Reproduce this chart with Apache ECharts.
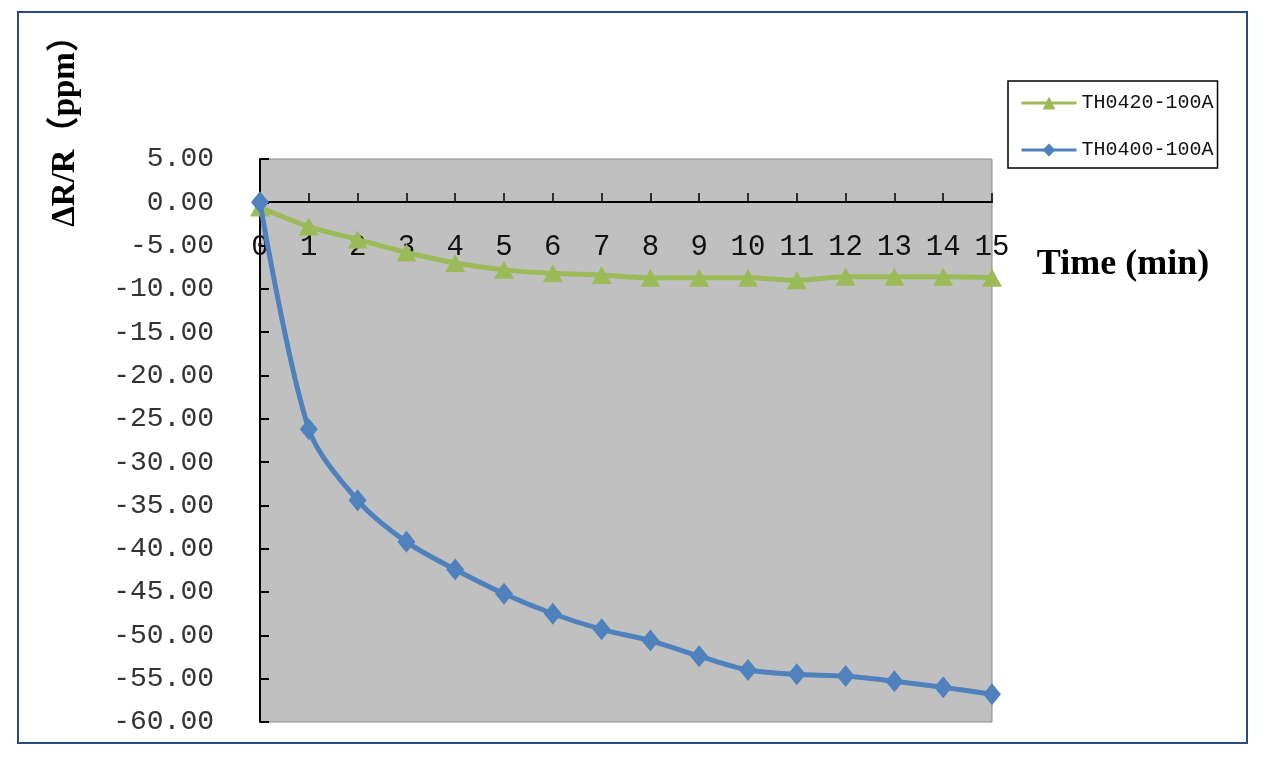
<!DOCTYPE html>
<html>
<head>
<meta charset="utf-8">
<script src="https://cdn.jsdelivr.net/npm/echarts@6/dist/echarts.min.js"></script>
<style>
html,body{margin:0;padding:0;background:#fff;}
#chart{width:1266px;height:757px;}
</style>
</head>
<body>
<div id="chart"></div>
<script>
// x categories (time in minutes)
const times = [0,1,2,3,4,5,6,7,8,9,10,11,12,13,14,15];
// series values (ppm)
const th0420 = [-0.6,-2.8,-4.3,-5.8,-7.0,-7.8,-8.2,-8.4,-8.7,-8.7,-8.7,-9.0,-8.6,-8.6,-8.6,-8.7];
const th0400 = [0,-26.2,-34.4,-39.2,-42.4,-45.2,-47.5,-49.3,-50.6,-52.4,-54.0,-54.5,-54.7,-55.3,-56.0,-56.8];
const seriesNames = ['TH0420-100A','TH0400-100A'];
const yAxisTitle = 'ΔR/R（ppm）';
const xAxisTitle = 'Time (min)';

const chart = echarts.init(document.getElementById('chart'));
const monoFont = "'Liberation Mono', 'DejaVu Sans Mono', monospace";
const serifFont = "'Liberation Serif', 'Noto Sans CJK SC', serif";

const gridTop = 159, gridBottomPx = 722;
const yMin = -60, yMax = 5;
// shift the x axis up so that it sits at y = 0
const zeroOffset = -Math.round((gridBottomPx - gridTop) * (0 - yMin) / (yMax - yMin));

chart.setOption({
  animation: false,
  backgroundColor: '#ffffff',
  grid: {
    left: 260, top: gridTop, right: 274, bottom: 757 - gridBottomPx,
    containLabel: false,
    outerBoundsMode: 'none',
    show: true,
    backgroundColor: '#C0C0C0',
    borderColor: '#8a8a8a',
    borderWidth: 1
  },
  legend: {
    orient: 'vertical',
    left: 1008, top: 81,
    padding: [12, 4, 8, 12],
    itemGap: 27,
    itemWidth: 55,
    itemHeight: 16,
    borderColor: '#000',
    borderWidth: 1.5,
    lineStyle: { width: 3 },
    textStyle: { fontFamily: monoFont, fontSize: 20, color: '#111' },
    data: seriesNames
  },
  xAxis: {
    type: 'value',
    position: 'bottom',
    offset: zeroOffset,
    min: 0, max: 15, interval: 1,
    axisLine: { onZero: false, lineStyle: { color: '#000', width: 2 } },
    axisTick: { inside: true, length: 9, lineStyle: { color: '#000', width: 1.5 } },
    splitLine: { show: false },
    axisLabel: {
      margin: 31,
      fontFamily: monoFont, fontSize: 29, color: '#111',
      showMinLabel: true, showMaxLabel: true,
      hideOverlap: false,
      formatter: function (v) { return String(times[v] !== undefined ? times[v] : v); }
    }
  },
  yAxis: {
    type: 'value',
    min: yMin, max: yMax, interval: 5,
    axisLine: { show: true, onZero: false, lineStyle: { color: '#000', width: 2 } },
    axisTick: { show: true, inside: true, length: 9, lineStyle: { color: '#000', width: 2 } },
    splitLine: { show: false },
    axisLabel: {
      margin: 46,
      fontFamily: monoFont, fontSize: 28, color: '#333',
      formatter: function (v) { return v.toFixed(2); }
    }
  },
  graphic: [
    {
      type: 'rect', silent: true, z: 100,
      shape: { x: 18, y: 12, width: 1229, height: 731 },
      style: { fill: 'none', stroke: '#2B4A80', lineWidth: 2 }
    },
    {
      type: 'text', z: 100,
      x: 65, y: 123, rotation: Math.PI / 2,
      style: {
        text: yAxisTitle, fontFamily: serifFont, fontWeight: 'bold', fontSize: 33,
        fill: '#000', align: 'center', verticalAlign: 'middle'
      }
    },
    {
      type: 'text', z: 100,
      x: 1123, y: 265,
      style: {
        text: xAxisTitle, fontFamily: serifFont, fontWeight: 'bold', fontSize: 36,
        fill: '#000', align: 'center', verticalAlign: 'middle'
      }
    }
  ],
  series: [
    {
      name: seriesNames[0],
      type: 'line',
      data: times.map((t, i) => [t, th0420[i]]),
      smooth: 0.3,
      symbol: 'triangle',
      symbolSize: [20, 18],
      itemStyle: { color: '#9BBB59' },
      lineStyle: { color: '#9BBB59', width: 5 },
      z: 3
    },
    {
      name: seriesNames[1],
      type: 'line',
      data: times.map((t, i) => [t, th0400[i]]),
      smooth: 0.3,
      symbol: 'diamond',
      symbolSize: [18, 22],
      itemStyle: { color: '#4F81BD' },
      lineStyle: { color: '#4F81BD', width: 5 },
      z: 4
    }
  ]
});
</script>
</body>
</html>
